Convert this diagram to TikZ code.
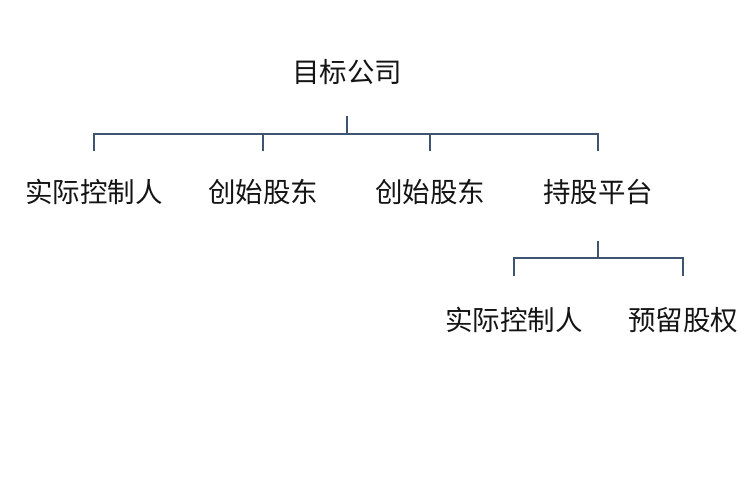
\documentclass[tikz,border=0pt]{standalone}
\usepackage{fontspec}
\newfontfamily\cjk{Noto Sans CJK SC}
\definecolor{linec}{HTML}{3E5470}
\begin{document}
\begin{tikzpicture}[x=1pt,y=-1pt,
  lbl/.style={font=\cjk\fontsize{27.5}{32}\selectfont, text=black!92, inner sep=0pt},
  conn/.style={draw=linec, line width=2pt}]
\useasboundingbox[fill=white] (0,0) rectangle (750,500);
\node[lbl] (top) at (347,72) {目标公司};
\node[lbl] (a1) at (94,192) {实际控制人};
\node[lbl] (a2) at (263,192) {创始股东};
\node[lbl] (a3) at (430,192) {创始股东};
\node[lbl] (a4) at (598,192) {持股平台};
\node[lbl] (b1) at (514,320) {实际控制人};
\node[lbl] (b2) at (683,320) {预留股权};
% first level bracket
\coordinate (s0) at (347,116);
\coordinate (h0) at (347,134);
\draw[conn] (s0) -- (h0);
\draw[conn] (a1.north |- 0,151) -- (a1.north |- 0,134) -- (a4.north |- 0,134) -- (a4.north |- 0,151);
\draw[conn] (a2.north |- 0,134) -- (a2.north |- 0,151);
\draw[conn] (a3.north |- 0,134) -- (a3.north |- 0,151);
% second level bracket
\draw[conn] (a4.south |- 0,241) -- (a4.south |- 0,258);
\draw[conn] (b1.north |- 0,276) -- (b1.north |- 0,258) -- (b2.north |- 0,258) -- (b2.north |- 0,276);
\end{tikzpicture}
\end{document}
